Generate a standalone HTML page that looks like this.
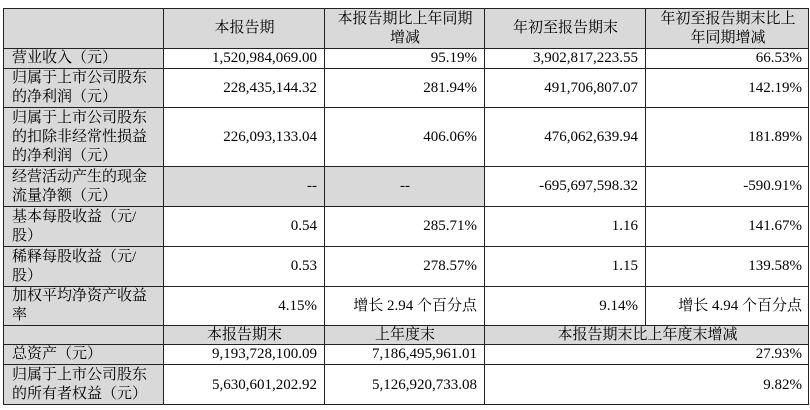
<!DOCTYPE html>
<html><head><meta charset="utf-8"><style>
body{margin:0;width:810px;height:410px;background:#fff;position:relative;overflow:hidden;font-family:"Liberation Serif","Noto Serif CJK SC",serif;font-size:15px;color:#000}
.c{position:absolute;box-sizing:border-box;border-left:1px solid #222;border-top:1px solid #222;display:flex;align-items:center;padding:0 7px 0 8px;line-height:19px;white-space:nowrap}
.g{background:#d9d9d9}
.r{justify-content:flex-end;text-align:right}
.m{justify-content:center;text-align:center}
.l{justify-content:flex-start}
#ob{position:absolute;left:3px;top:8px;width:806px;height:397px;box-sizing:border-box;border-right:1px solid #222;border-bottom:1px solid #222;pointer-events:none}
</style></head><body>
<div class="c g" style="left:3px;top:8px;width:160px;height:40px"></div>
<div class="c g m" style="left:163px;top:8px;width:161px;height:40px">本报告期</div>
<div class="c g m" style="left:324px;top:8px;width:160px;height:40px">本报告期比上年同期<br>增减</div>
<div class="c g m" style="left:484px;top:8px;width:161px;height:40px">年初至报告期末</div>
<div class="c g m" style="left:645px;top:8px;width:164px;height:40px">年初至报告期末比上<br>年同期增减</div>
<div class="c g l" style="left:3px;top:48px;width:160px;height:20px">营业收入（元）</div>
<div class="c r" style="left:163px;top:48px;width:161px;height:20px">1,520,984,069.00</div>
<div class="c r" style="left:324px;top:48px;width:160px;height:20px">95.19%</div>
<div class="c r" style="left:484px;top:48px;width:161px;height:20px">3,902,817,223.55</div>
<div class="c r" style="left:645px;top:48px;width:164px;height:20px">66.53%</div>
<div class="c g l" style="left:3px;top:68px;width:160px;height:39px">归属于上市公司股东<br>的净利润（元）</div>
<div class="c r" style="left:163px;top:68px;width:161px;height:39px">228,435,144.32</div>
<div class="c r" style="left:324px;top:68px;width:160px;height:39px">281.94%</div>
<div class="c r" style="left:484px;top:68px;width:161px;height:39px">491,706,807.07</div>
<div class="c r" style="left:645px;top:68px;width:164px;height:39px">142.19%</div>
<div class="c g l" style="left:3px;top:107px;width:160px;height:59px">归属于上市公司股东<br>的扣除非经常性损益<br>的净利润（元）</div>
<div class="c r" style="left:163px;top:107px;width:161px;height:59px">226,093,133.04</div>
<div class="c r" style="left:324px;top:107px;width:160px;height:59px">406.06%</div>
<div class="c r" style="left:484px;top:107px;width:161px;height:59px">476,062,639.94</div>
<div class="c r" style="left:645px;top:107px;width:164px;height:59px">181.89%</div>
<div class="c g l" style="left:3px;top:166px;width:160px;height:40px">经营活动产生的现金<br>流量净额（元）</div>
<div class="c g r" style="left:163px;top:166px;width:161px;height:40px">--</div>
<div class="c g m" style="left:324px;top:166px;width:160px;height:40px">--</div>
<div class="c r" style="left:484px;top:166px;width:161px;height:40px">-695,697,598.32</div>
<div class="c r" style="left:645px;top:166px;width:164px;height:40px">-590.91%</div>
<div class="c g l" style="left:3px;top:206px;width:160px;height:40px">基本每股收益（元/<br>股）</div>
<div class="c r" style="left:163px;top:206px;width:161px;height:40px">0.54</div>
<div class="c r" style="left:324px;top:206px;width:160px;height:40px">285.71%</div>
<div class="c r" style="left:484px;top:206px;width:161px;height:40px">1.16</div>
<div class="c r" style="left:645px;top:206px;width:164px;height:40px">141.67%</div>
<div class="c g l" style="left:3px;top:246px;width:160px;height:40px">稀释每股收益（元/<br>股）</div>
<div class="c r" style="left:163px;top:246px;width:161px;height:40px">0.53</div>
<div class="c r" style="left:324px;top:246px;width:160px;height:40px">278.57%</div>
<div class="c r" style="left:484px;top:246px;width:161px;height:40px">1.15</div>
<div class="c r" style="left:645px;top:246px;width:164px;height:40px">139.58%</div>
<div class="c g l" style="left:3px;top:286px;width:160px;height:39px">加权平均净资产收益<br>率</div>
<div class="c r" style="left:163px;top:286px;width:161px;height:39px">4.15%</div>
<div class="c r" style="left:324px;top:286px;width:160px;height:39px">增长 2.94 个百分点</div>
<div class="c r" style="left:484px;top:286px;width:161px;height:39px">9.14%</div>
<div class="c r" style="left:645px;top:286px;width:164px;height:39px">增长 4.94 个百分点</div>
<div class="c g" style="left:3px;top:325px;width:160px;height:19px"></div>
<div class="c g m" style="left:163px;top:325px;width:161px;height:19px">本报告期末</div>
<div class="c g m" style="left:324px;top:325px;width:160px;height:19px">上年度末</div>
<div class="c g m" style="left:484px;top:325px;width:325px;height:19px">本报告期末比上年度末增减</div>
<div class="c g l" style="left:3px;top:344px;width:160px;height:20px">总资产（元）</div>
<div class="c r" style="left:163px;top:344px;width:161px;height:20px">9,193,728,100.09</div>
<div class="c r" style="left:324px;top:344px;width:160px;height:20px">7,186,495,961.01</div>
<div class="c r" style="left:484px;top:344px;width:325px;height:20px">27.93%</div>
<div class="c g l" style="left:3px;top:364px;width:160px;height:41px">归属于上市公司股东<br>的所有者权益（元）</div>
<div class="c r" style="left:163px;top:364px;width:161px;height:41px">5,630,601,202.92</div>
<div class="c r" style="left:324px;top:364px;width:160px;height:41px">5,126,920,733.08</div>
<div class="c r" style="left:484px;top:364px;width:325px;height:41px">9.82%</div>
<div id="ob"></div>
</body></html>
